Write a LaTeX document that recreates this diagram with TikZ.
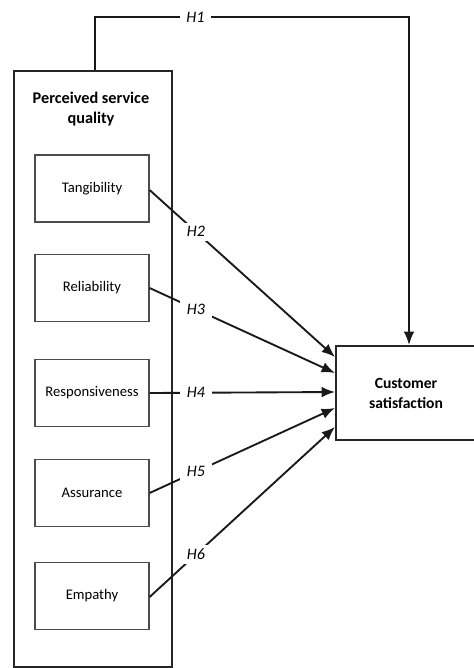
\documentclass[tikz,border=0pt]{standalone}
\usepackage{fontspec}
\setmainfont{Carlito}
\usetikzlibrary{arrows.meta}
\begin{document}
\begin{tikzpicture}[x=0.75pt,y=-0.75pt,
  outer/.style={draw=black!85,line width=1.5pt},
  dim/.style={draw=black!70,line width=0.9pt,minimum width=114*0.75pt,minimum height=67*0.75pt,font=\fontsize{11}{13}\selectfont},
  link/.style={line width=1.4pt,draw=black!90,-{Latex[length=10pt,width=8pt]}},
  hyp/.style={fill=white,font=\itshape\fontsize{12}{14}\selectfont,inner xsep=5pt,inner ysep=3pt}]
\useasboundingbox (0,0) rectangle (474,668);
\node[outer,minimum width=158*0.75pt,minimum height=596*0.75pt,anchor=north west] (psq) at (13,70) {};
\node[font=\bfseries\fontsize{12.2}{15}\selectfont,align=center] (title) at (91,109) {Perceived service\\quality};
\node[dim] (tan) at (92,188.5) {Tangibility};
\node[dim] (rel) at (92,288) {Reliability};
\node[dim] (res) at (92,393) {Responsiveness};
\node[dim] (ass) at (92,493) {Assurance};
\node[dim] (emp) at (92,596) {Empathy};
\node[outer,minimum width=140*0.75pt,minimum height=94*0.75pt,anchor=north west,align=center,font=\bfseries\fontsize{11.7}{15}\selectfont] (cs) at (335,345) {Customer\\satisfaction};
\coordinate (t1) at (95,17);
\coordinate (t2) at (409,17);
\draw[link] (psq.north -| t1) -- (t1) -- node[hyp,pos=0.32]{H1} (t2) -- (cs.north -| t2);
\draw[link] (tan.east |- 0,190) -- node[hyp,pos=0.25]{H2} (cs.west |- 0,357);
\draw[link] (rel.east) -- node[hyp,pos=0.25]{H3} (cs.west |- 0,373);
\draw[link] (res.east) -- node[hyp,pos=0.25]{H4} (cs.west |- 0,392);
\draw[link] (ass.east) -- node[hyp,pos=0.25]{H5} (cs.west |- 0,408);
\draw[link] (emp.east |- 0,597) -- node[hyp,pos=0.25]{H6} (cs.west |- 0,427);
\end{tikzpicture}
\end{document}
